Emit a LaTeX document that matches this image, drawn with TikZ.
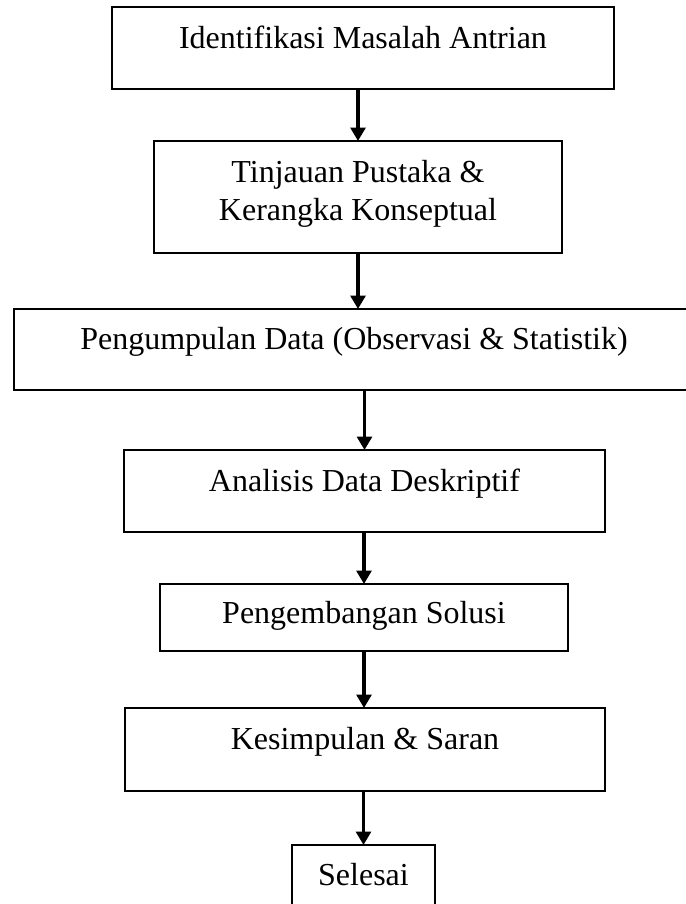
\documentclass[tikz,border=0pt]{standalone}
\usepackage{fontspec}
\setmainfont{Liberation Serif}
\usepackage{tikz}
\usetikzlibrary{arrows.meta}

\tikzset{
  stage/.style={draw, line width=0.8pt, inner sep=0pt,
    text height=0pt, text depth=0pt, align=center,
    font=\fontsize{24pt}{28.5pt}\selectfont},
  flow/.style={line width=2.6pt, shorten >=-0.4pt},
}

\begin{document}
\begin{tikzpicture}[x=0.75pt, y=-0.75pt,
    >={Triangle[length=10pt, width=11pt]}, ->]
    \useasboundingbox (0, 0) rectangle (686, 904);
    \node[stage, minimum width=376.5pt, minimum height=61.5pt]
      at (363, 48) (ident)
      {Identifikasi Masalah Antrian};
    \node[stage, minimum width=306pt, minimum height=84pt,
      text height=34.5pt] at (358, 197) (tinjau)
      {Tinjauan Pustaka \&\\Kerangka Konseptual};
    \node[stage, minimum width=510pt, minimum height=60.75pt]
      at (354, 349.5) (kumpul)
      {Pengumpulan Data (Observasi \& Statistik)};
    \node[stage, minimum width=360.75pt, minimum height=61.5pt]
      at (364.5, 491) (analisis)
      {Analisis Data Deskriptif};
    \node[stage, minimum width=306pt, minimum height=50.25pt,
      text height=8.25pt] at (364, 617.5) (solusi)
      {Pengembangan Solusi};
    \node[stage, minimum width=360pt, minimum height=62.25pt]
      at (365, 749.5) (simpul)
      {Kesimpulan \& Saran};
    \node[stage, minimum width=107.25pt, minimum height=60pt]
      at (363.5, 885) (selesai)
      {Selesai};
    \path[flow]
      (ident.south -| tinjau) edge (tinjau)
      (tinjau) edge (tinjau |- kumpul.north)
      (kumpul.south -| analisis) edge (analisis)
      (analisis.south -| solusi) edge (solusi)
      (solusi) edge (solusi |- simpul.north)
      (simpul.south -| selesai) edge (selesai);
  \end{tikzpicture}
\end{document}
